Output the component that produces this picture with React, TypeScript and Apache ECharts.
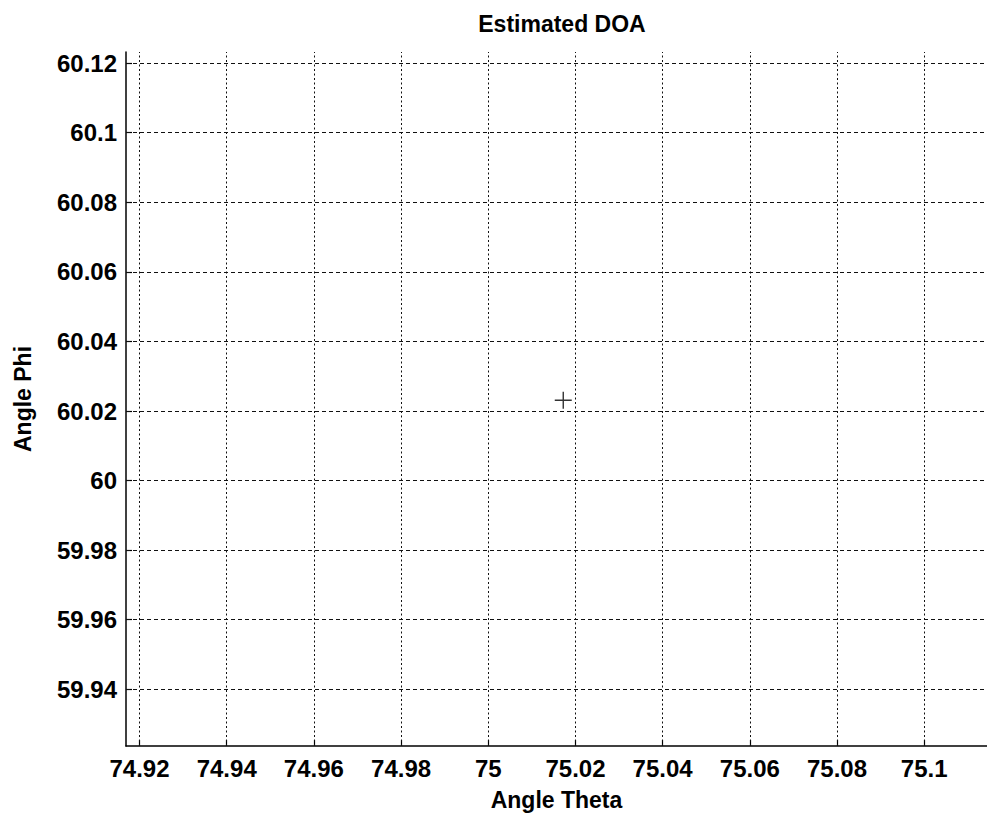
import React, { useEffect, useRef } from "react";
import * as echarts from "echarts";

const titleText = "Estimated DOA";
const xName = "Angle Theta";
const yName = "Angle Phi";
const xTicks = [74.92, 74.94, 74.96, 74.98, 75, 75.02, 75.04, 75.06, 75.08, 75.1];
const yTicks = [59.94, 59.96, 59.98, 60, 60.02, 60.04, 60.06, 60.08, 60.1, 60.12];
const xRange = [74.9169, 75.1144];
const yRange = [59.9237, 60.1232];
const points: [number, number][] = [[75.0172, 60.0231]];

const FONT = "'Liberation Sans', Arial, sans-serif";
const fmt = (v: number) => String(+Number(v).toFixed(2));

export default function App() {
  const ref = useRef<HTMLDivElement>(null);
  useEffect(() => {
    if (!ref.current) return;
    const chart = echarts.init(ref.current, undefined, { renderer: "svg" });
    const vGrid = xTicks.map((v) => ({
      xAxis: v,
      lineStyle: { color: "#111", width: 1, type: [2, 2.5] as any },
    }));
    const hGrid = yTicks.map((v) => ({
      yAxis: v,
      lineStyle: { color: "#111", width: 1, type: [4, 3] as any },
    }));
    chart.setOption({
      animation: false,
      backgroundColor: "#fff",
      title: {
        text: titleText,
        left: 557,
        top: 7,
        textAlign: "center",
        textStyle: { fontFamily: FONT, fontSize: 23, fontWeight: "bold", color: "#000" },
      },
      grid: { left: 126, right: 0, top: 52, bottom: 71 },
      xAxis: {
        type: "value",
        min: xRange[0],
        max: xRange[1],
        name: xName,
        nameLocation: "middle",
        nameGap: 42,
        nameTextStyle: { fontFamily: FONT, fontSize: 23, fontWeight: "bold", color: "#000" },
        axisLine: { show: true, onZero: false, lineStyle: { color: "#000", width: 1.5 } },
        axisTick: { show: true, inside: true, length: 6, customValues: xTicks, lineStyle: { color: "#000", width: 1.2 } },
        axisLabel: {
          customValues: xTicks,
          formatter: fmt,
          margin: 10,
          fontFamily: FONT,
          fontSize: 24,
          fontWeight: "bold",
          color: "#000",
        },
        splitLine: { show: false },
      },
      yAxis: {
        type: "value",
        min: yRange[0],
        max: yRange[1],
        name: yName,
        nameLocation: "middle",
        nameGap: 92,
        nameTextStyle: { fontFamily: FONT, fontSize: 23, fontWeight: "bold", color: "#000" },
        axisLine: { show: true, onZero: false, lineStyle: { color: "#000", width: 1.5 } },
        axisTick: { show: true, inside: true, length: 6, customValues: yTicks, lineStyle: { color: "#000", width: 1.2 } },
        axisLabel: {
          customValues: yTicks,
          formatter: fmt,
          margin: 9,
          fontFamily: FONT,
          fontSize: 24,
          fontWeight: "bold",
          color: "#000",
        },
        splitLine: { show: false },
      },
      series: [
        {
          type: "scatter",
          data: points,
          symbol: "path://M8,0L8,16M0,8L16,8",
          symbolSize: 17,
          itemStyle: { color: "transparent", borderColor: "#000", borderWidth: 1.4 },
          markLine: {
            silent: true,
            symbol: "none",
            label: { show: false },
            data: [...vGrid, ...hGrid],
          },
        },
      ],
    });
    return () => chart.dispose();
  }, []);
  return (
    <div
      ref={ref}
      style={{ position: "absolute", left: 0, top: 0, width: 987, height: 817 }}
    />
  );
}
